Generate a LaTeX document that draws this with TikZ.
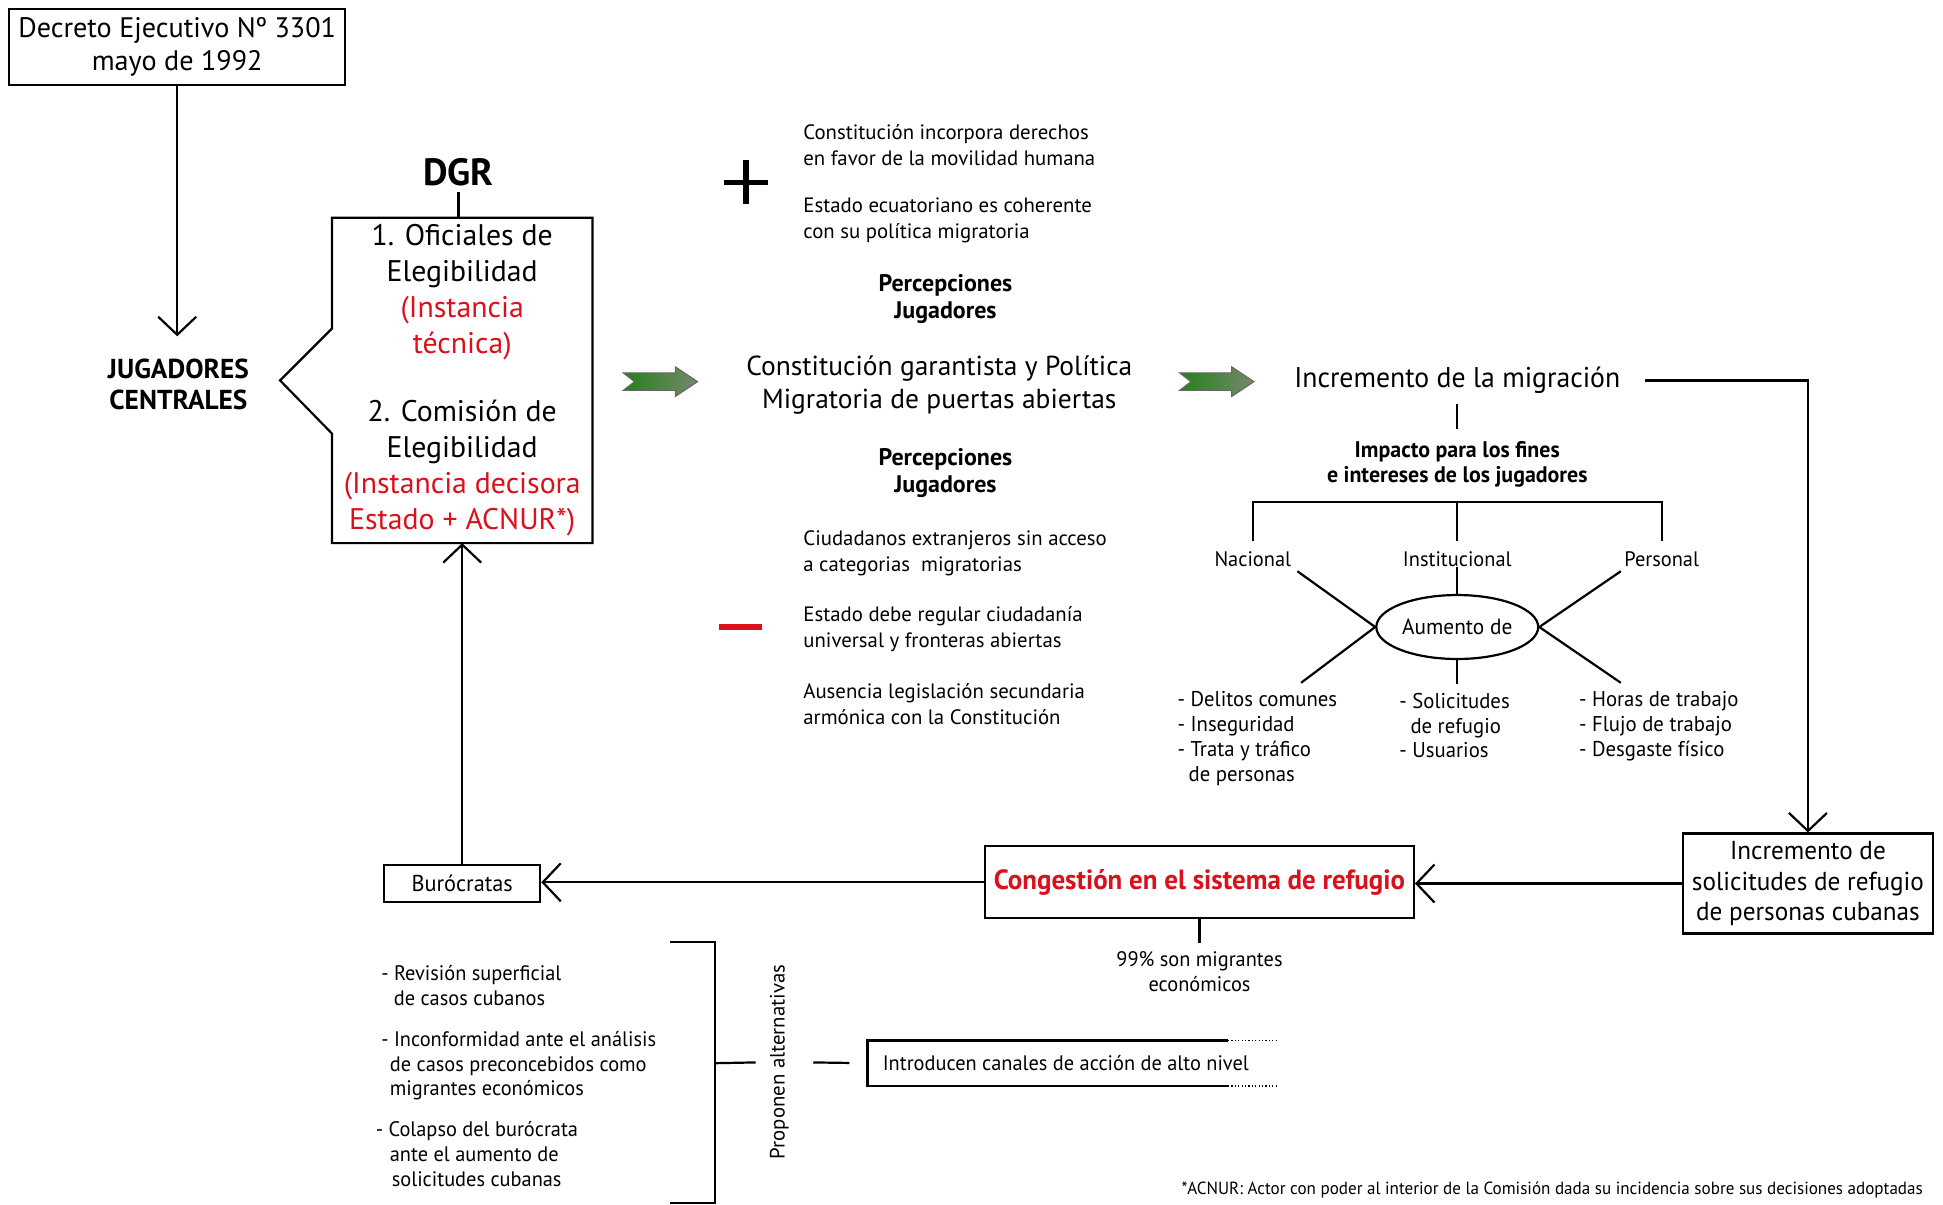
\documentclass[tikz,border=0pt]{standalone}
\usepackage{fontspec}
\setmainfont{PT Sans}
\newfontfamily\condfont[FakeStretch=0.97]{PT Sans}
\usetikzlibrary{arrows.meta,positioning,shapes.geometric}
\definecolor{rojo}{RGB}{218,16,28}
\definecolor{verdeA}{RGB}{38,128,28}
\definecolor{verdeB}{RGB}{118,136,108}

\begin{document}
\begin{tikzpicture}[x=0.62pt,y=-0.62pt,
		linea/.style={line width=1.1pt},
		flecha/.style={line width=1.1pt,-{Straight Barb[length=9pt,width=19pt]}},
		caja/.style={draw,line width=1.1pt,inner sep=0pt,align=center},
		txt/.style={inner sep=0pt,align=left,font=\fontsize{10.4}{13}\selectfont},
		grande/.style={inner sep=0pt,align=center,font=\fontsize{13.75}{16.7}\selectfont},
		cond/.style={inner sep=0pt,align=center,font=\condfont\fontsize{10.5}{12.4}\selectfont},
		lista/.style={cond,align=left,anchor=north west,font=\condfont\fontsize{10.7}{12.4}\selectfont},
		negrita/.style={inner sep=0pt,align=center,font=\bfseries\fontsize{12}{13.6}\selectfont},
		greenarrow/.pic={
			\shade[left color=verdeA,right color=verdeB,draw=black!60,line width=0.5pt]
			(0,-7) -- (42,-7) -- (42,-12) -- (60,0) -- (42,12) -- (42,7) -- (0,7) -- (9,0) -- cycle;}
		]
	\useasboundingbox (0,0) rectangle (1568,972);
	
	% izquierda
	\node[caja,font=\fontsize{14.1}{16.7}\selectfont,minimum width=168pt,minimum height=38pt](decreto) at (143,38){Decreto Ejecutivo Nº 3301\\mayo de 1992};
	\node[inner sep=0pt,align=center,font=\bfseries\fontsize{13.7}{15.5}\selectfont](jug) at (144,310){JUGADORES\\CENTRALES};
	\draw[flecha,shorten >=11pt] (decreto.south) -- (decreto.south |- jug.north);
	
	\node[inner sep=0pt,minimum width=130pt,minimum height=162.4pt,align=center,font=\fontsize{14.9}{18}\selectfont](elegib) at (373,307){1. Oficiales de\\Elegibilidad\\{\color{rojo}(Instancia}\\{\color{rojo}técnica)}\\[16pt]2. Comisión de\\Elegibilidad\\{\color{rojo}(Instancia decisora}\\{\color{rojo}Estado + ACNUR*)}};
	\draw[linea] (elegib.north west) -- (268,265) -- (226,307) -- (268,350) -- (elegib.south west) -- (elegib.south east) -- (elegib.north east) -- cycle;
	\node[inner sep=0pt,font=\bfseries\fontsize{19}{22}\selectfont](dgr) at (370,139){DGR};
	\draw[linea] ([yshift=-3pt]dgr.south) -- (dgr.south |- elegib.north);
	
	% centro
	\pic at (503,308) {greenarrow};
	\pic at (952,308) {greenarrow};
	\draw[line width=2.6pt] (584,147) -- (620,147) (602,129) -- (602,165);
	\draw[line width=3pt,rojo] (580,506) -- (615,506);
	\node[txt,anchor=west](pos1) at (648,117){Constitución incorpora derechos\\en favor de la movilidad humana};
	\node[txt,anchor=west](pos2) at (648,178){Estado ecuatoriano es coherente\\con su política migratoria};
	\node[negrita](perc1) at (763,241){Percepciones\\Jugadores};
	\node[grande](const) at (758,310.5){Constitución garantista y Política\\Migratoria de puertas abiertas};
	\node[negrita](perc2) at (763,382){Percepciones\\Jugadores};
	\node[txt,anchor=west](neg1) at (648,446.5){Ciudadanos extranjeros sin acceso\\a categorias\ \ migratorias};
	\node[txt,anchor=west](neg2) at (648,507.5){Estado debe regular ciudadanía\\universal y fronteras abiertas};
	\node[txt,anchor=west](neg3) at (648,568.5){Ausencia legislación secundaria\\armónica con la Constitución};
	
	% derecha
	\node[inner sep=0pt,font=\condfont\fontsize{14.3}{17}\selectfont](incmig) at (1176,307){Incremento de la migración};
	\node[inner sep=0pt,align=center,font=\condfont\bfseries\fontsize{11.3}{12.6}\selectfont](impacto) at (1176,375){Impacto para los fines\\e intereses de los jugadores};
	\draw[linea,shorten <=5pt,shorten >=6pt] (incmig.south) -- (impacto.north);
	\node[cond](nac) at (1011,451){Nacional};
	\node[cond](inst) at (1176,451){Institucional};
	\node[cond](pers) at (1341,451){Personal};
	\coordinate (barra) at (1176,405);
	\draw[linea] ([yshift=5pt]nac.north) |- (barra) -| ([yshift=5pt]pers.north);
	\draw[linea] (barra) -- ([yshift=5pt]inst.north);
	\node[ellipse,draw,linea,cond,font=\condfont\fontsize{11}{13}\selectfont,minimum width=81pt,minimum height=32pt](aumento) at (1176,506){Aumento de};
	\coordinate (nacA) at (1047,461);
	\coordinate (nacB) at (1050,551);
	\coordinate (persA) at (1308,461);
	\coordinate (persB) at (1308,551);
	\coordinate (instB) at (1176,552);
	\draw[linea] (nacA) -- (aumento.west) -- (nacB);
	\draw[linea] (persA) -- (aumento.east) -- (persB);
	\draw[linea] (inst) -- (aumento.north);
	\draw[linea] (aumento.south) -- (instB);
	\node[lista](lnac) at (950,558){- Delitos comunes\\- Inseguridad\\- Trata y tráfico\\\ \ de personas};
	\node[lista](linst) at (1129,559){- Solicitudes\\\ \ de refugio\\- Usuarios};
	\node[lista](lpers) at (1274,558){- Horas de trabajo\\- Flujo de trabajo\\- Desgaste físico};
	
	% abajo
	\node[caja,font=\condfont\fontsize{13}{15.5}\selectfont,minimum width=125pt,minimum height=50pt](solic) at (1459,713){Incremento de\\solicitudes de refugio\\de personas cubanas};
	\draw[flecha] ([xshift=12pt]incmig.east) -| (solic.north);
	\node[caja,text=rojo,font=\condfont\bfseries\fontsize{13.9}{16}\selectfont,minimum width=214.5pt,minimum height=36pt](congest) at (968,712){Congestión en el sistema de refugio};
	\draw[flecha] (solic.west) -- (solic.west -| congest.east);
	\node[cond](mig99) at (968,784){99\% son migrantes\\económicos};
	\draw[linea,shorten >=4pt] (congest.south) -- (congest.south |- mig99.north);
	\node[caja,font=\condfont\fontsize{11.5}{14}\selectfont,minimum width=78pt,minimum height=18.6pt](buro) at (373,713){Burócratas};
	\draw[flecha] (congest.west) -- (congest.west -| buro.east);
	\draw[flecha] (buro.north) -- (buro.north |- elegib.south);
	
	\node[lista,font=\condfont\fontsize{10.5}{12.4}\selectfont](lburo) at (303,779){\ - Revisión superficial\\\hspace{9pt}de casos cubanos\\[8pt]\ - Inconformidad ante el análisis\\\hspace{7pt}de casos preconcebidos como\\\hspace{7pt}migrantes económicos\\[8pt]- Colapso del burócrata\\\hspace{7pt}ante el aumento de\\\hspace{8pt}solicitudes cubanas};
	\draw[linea] (541,760) -- (577,760) -- (577,971) -- (541,971);
	\coordinate (brkt) at (577,858);
	\node[inner sep=7pt,rotate=90,font=\fontsize{10.4}{12}\selectfont](propo) at (629,857){Proponen alternativas};
	\node[minimum width=180pt,minimum height=22.3pt,inner sep=0pt,anchor=west](introbox) at (700,858){};
	\node[cond,anchor=west,font=\condfont\fontsize{10.5}{13}\selectfont](intro) at ([xshift=7.5pt]introbox.west){Introducen canales de acción de alto nivel};
	\draw[linea] (brkt) -- (propo);
	\draw[linea,shorten <=5pt,shorten >=9pt] (propo) -- (introbox.west);
	\draw[linea] (introbox.north east) -- (introbox.north west) -- (introbox.south west) -- (introbox.south east);
	\draw[line width=0.9pt,dash pattern=on 0.6pt off 1.1pt] (introbox.north east) -- ++(40,0) (introbox.south east) -- ++(40,0);
	
	\node[inner sep=0pt,anchor=east,font=\condfont\fontsize{8.8}{10}\selectfont](nota) at (1552,960){*ACNUR: Actor con poder al interior de la Comisión dada su incidencia sobre sus decisiones adoptadas};
\end{tikzpicture}
\end{document}
